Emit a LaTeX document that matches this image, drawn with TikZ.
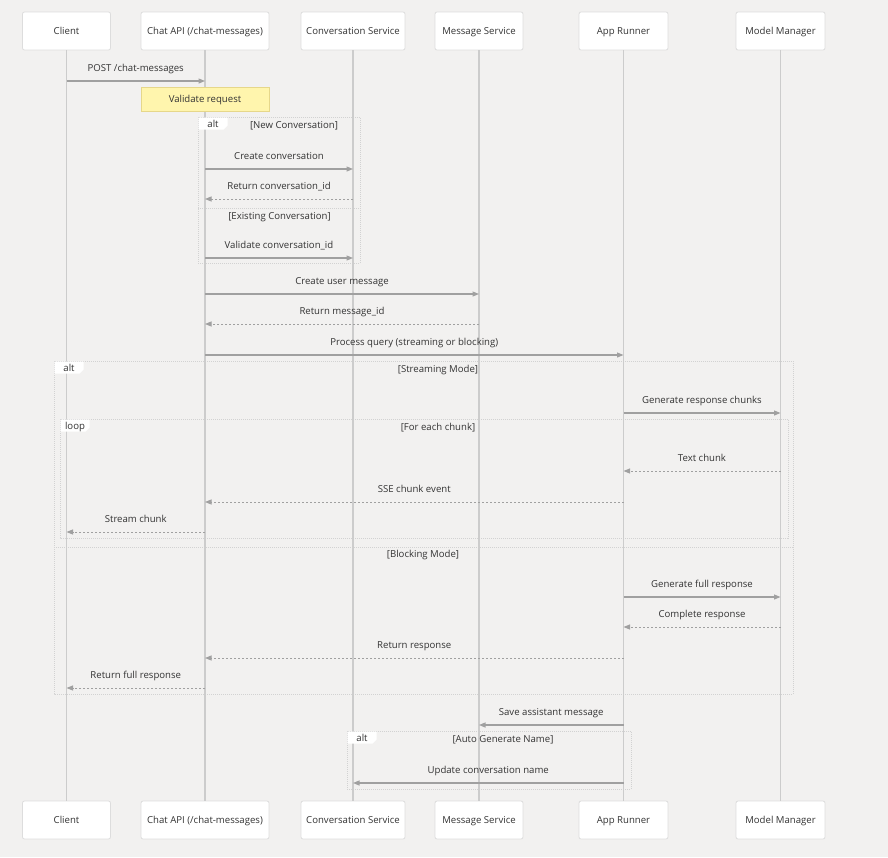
\documentclass[tikz,border=0pt]{standalone}
\usepackage{fontspec}
\setmainfont{Open Sans}
\usetikzlibrary{arrows.meta}
\definecolor{bg}{HTML}{F2F1F0}
\definecolor{txt}{HTML}{333333}
\definecolor{life}{HTML}{CCCCCC}
\definecolor{arr}{HTML}{A0A0A0}
\definecolor{boxline}{HTML}{DDDDDD}
\definecolor{notefill}{HTML}{FFF5AD}
\definecolor{noteline}{HTML}{E6D78A}
\definecolor{frameline}{HTML}{D2D2D2}
\tikzset{
  txtbox/.style={text height=8pt, text depth=0.5pt},
  actor/.style={draw=boxline, fill=white, rounded corners=2pt, line width=0.8pt, minimum height=38, text=txt, inner sep=2pt, txtbox},
  lifeline/.style={draw=life, line width=1.4pt},
  solidmsg/.style={draw=arr, line width=1.1pt, -{Triangle[length=6.5pt,width=5pt]}},
  dotmsg/.style={draw=arr, line width=1pt, dash pattern=on 2pt off 2pt, -{Triangle[length=6.5pt,width=5pt]}},
  lbl/.style={text=txt, inner sep=0pt, yshift=13pt, txtbox},
  notebox/.style={draw=noteline, fill=notefill, line width=0.8pt, minimum width=128, minimum height=24, text=txt, txtbox},
  framebox/.style={draw=frameline, line width=0.8pt, dash pattern=on 1pt off 1pt},
  cond/.style={text=txt, inner sep=0pt, txtbox},
}
\newcommand\msg[5]{\draw[#5] (#1T |- 0,#3) -- node[lbl]{#4} (#2T |- 0,#3);}
\newcommand\frametab[4]{% x, y, width, text
  \fill[white] (#1,#2) -- ++(#3,0) -- ++(0,8) -- ++(-4,4) -- (#1,#2+12) -- cycle;
  \node[cond] at (#1+#3/2,#2+6) {#4};}
\begin{document}
\begin{tikzpicture}[x=1pt,y=-1pt, font=\fontsize{9.6}{11}\selectfont]
\fill[bg] (0,0) rectangle (888,857);
\useasboundingbox (0,0) rectangle (888,857);

% frames
\draw[framebox] (198,117) rectangle (360,263);
\draw[framebox] (198,208) -- (360,208);
\draw[framebox] (54,361) rectangle (793,694);
\draw[framebox] (54,547) -- (793,547);
\draw[framebox] (60,419) rectangle (788,538);
\draw[framebox] (347,731) rectangle (631,789);

% participants
\foreach \n/\x/\w/\t in {client/66.5/88/Client, chat/205/128/{Chat API (/chat-messages)}, conv/353/104/Conversation Service, msgs/479/88/Message Service, app/623.5/89/App Runner, model/780.5/89/Model Manager}{
  \node[actor, minimum width=\w] (\n T) at (\x,31) {\t};
  \node[actor, minimum width=\w] (\n B) at (\x,820) {\t};
  \draw[lifeline] (\n T.south) -- (\n B.north);
}

% frame tabs and conditions
\frametab{198.5}{117.5}{29}{alt}
\node[cond] at (294,125) {[New Conversation]};
\node[cond] at (279.5,216) {[Existing Conversation]};
\frametab{54.5}{361.5}{29}{alt}
\node[cond] at (438,368.5) {[Streaming Mode]};
\frametab{60.5}{419.5}{29}{loop}
\node[cond] at (438,426.5) {[For each chunk]};
\node[cond] at (423,554) {[Blocking Mode]};
\frametab{347.5}{731.5}{29}{alt}
\node[cond] at (503,738.5) {[Auto Generate Name]};

% messages
\msg{client}{chat}{81}{POST /chat-messages}{solidmsg}
\node[notebox] (vnote) at (205,99) {Validate request};
\msg{chat}{conv}{169}{Create conversation}{solidmsg}
\msg{conv}{chat}{199}{Return conversation\_id}{dotmsg}
\msg{chat}{conv}{258}{Validate conversation\_id}{solidmsg}
\msg{chat}{msgs}{294}{Create user message}{solidmsg}
\msg{msgs}{chat}{324}{Return message\_id}{dotmsg}
\msg{chat}{app}{355}{Process query (streaming or blocking)}{solidmsg}
\msg{app}{model}{413}{Generate response chunks}{solidmsg}
\msg{model}{app}{471}{Text chunk}{dotmsg}
\msg{app}{chat}{502}{SSE chunk event}{dotmsg}
\msg{chat}{client}{532}{Stream chunk}{dotmsg}
\msg{app}{model}{597}{Generate full response}{solidmsg}
\msg{model}{app}{627}{Complete response}{dotmsg}
\msg{app}{chat}{658}{Return response}{dotmsg}
\msg{chat}{client}{688}{Return full response}{dotmsg}
\msg{app}{msgs}{725}{Save assistant message}{solidmsg}
\msg{app}{conv}{783}{Update conversation name}{solidmsg}
\end{tikzpicture}
\end{document}
